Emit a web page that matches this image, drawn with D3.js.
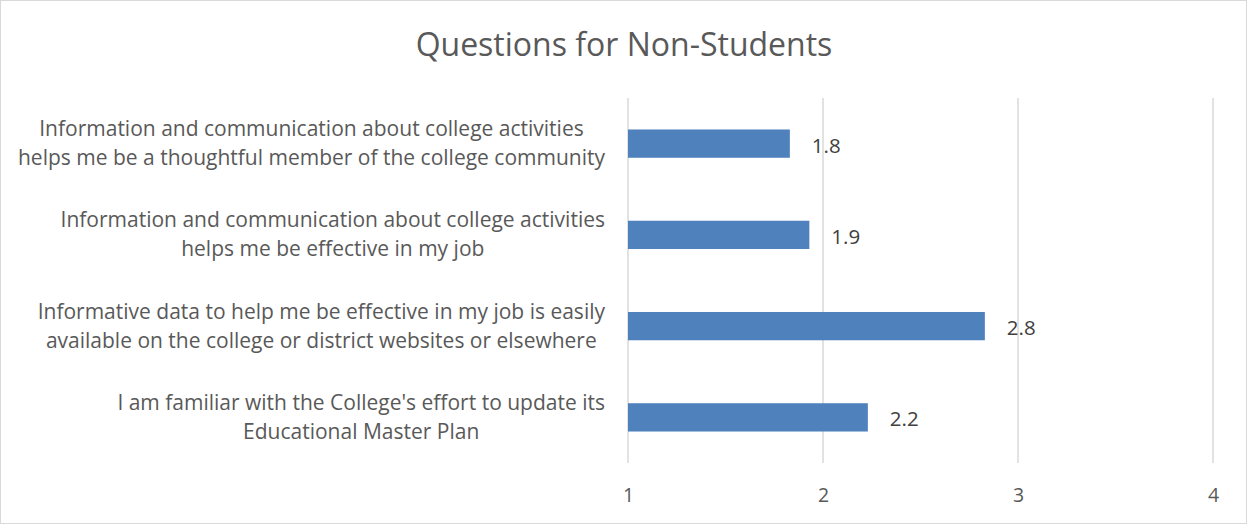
<!DOCTYPE html>
<html>
<head>
<meta charset="utf-8">
<script src="https://cdn.jsdelivr.net/npm/d3@7"></script>
<style>
  html, body { margin: 0; padding: 0; background: #fff; }
  svg { display: block; }
  text { font-family: "Open Sans", Lato, sans-serif; }
</style>
</head>
<body>
<svg id="chart" width="1247" height="524"></svg>
<script>
// Survey questions (top to bottom), each split into its display lines
const questions = [
  ["Information and communication about college activities",
   "helps me be a thoughtful member of the college community"],
  ["Information and communication about college activities",
   "helps me be effective in my job"],
  ["Informative data to help me be effective in my job is easily",
   "available on the college or district websites or elsewhere"],
  ["I am familiar with the College's effort to update its",
   "Educational Master Plan"]
];
// Mean rating per question
const scores = [1.83, 1.93, 2.83, 2.23];
// Axis ticks
const tickValues = [1, 2, 3, 4];
const chartTitle = "Questions for Non-Students";

const W = 1247, H = 524;
const plot = { left: 628, right: 1213, top: 98, bottom: 463 };

const svg = d3.select("#chart");

// Outer chart border
svg.append("rect")
  .attr("x", 0.5).attr("y", 0.5)
  .attr("width", W - 1).attr("height", H - 1)
  .attr("fill", "#fff").attr("stroke", "#d9d9d9");

const x = d3.scaleLinear().domain([1, 4]).range([plot.left, plot.right]);
const y = d3.scaleBand()
  .domain(d3.range(questions.length))
  .range([plot.top, plot.bottom])
  .paddingInner(0.69)
  .paddingOuter(0.345);

// Title
svg.append("text")
  .attr("x", 624).attr("y", 56)
  .attr("text-anchor", "middle")
  .attr("font-size", 32)
  .attr("font-weight", 400)
  .attr("fill", "#595959")
  .text(chartTitle);

// Vertical gridlines
svg.append("g").selectAll("line")
  .data(tickValues)
  .join("line")
  .attr("x1", d => x(d)).attr("x2", d => x(d))
  .attr("y1", plot.top).attr("y2", plot.bottom)
  .attr("stroke", "#d9d9d9").attr("stroke-width", 1.5);

// X axis tick labels
const xAxis = d3.axisBottom(x).tickValues(tickValues).tickSize(0).tickPadding(0).tickFormat(d3.format("d"));
const gx = svg.append("g").attr("transform", `translate(0,${plot.bottom})`).call(xAxis);
gx.select(".domain").remove();
gx.selectAll("text")
  .attr("dy", null).attr("y", 39)
  .attr("font-size", 19.5).attr("font-family", null)
  .attr("fill", "#595959");

// Bars
svg.append("g").selectAll("rect")
  .data(scores)
  .join("rect")
  .attr("x", x(1))
  .attr("y", (d, i) => y(i))
  .attr("width", d => x(d) - x(1))
  .attr("height", y.bandwidth())
  .attr("fill", "#4f81bd");

// Value labels
svg.append("g").selectAll("text")
  .data(scores)
  .join("text")
  .attr("x", d => x(d) + 22)
  .attr("y", (d, i) => y(i) + y.bandwidth() / 2 + 9)
  .attr("font-size", 20.5)
  .attr("fill", "#404040")
  .text(d => d3.format(".1f")(d));

// Category labels: block right-aligned to the plot, lines centred within the block
const labelRight = 605, lineGap = 29;
const catG = svg.append("g");
questions.forEach((lines, i) => {
  const g = catG.append("g");
  const texts = g.selectAll("text")
    .data(lines)
    .join("text")
    .attr("font-size", 21)
    .attr("fill", "#595959")
    .attr("text-anchor", "middle")
    .text(d => d);
  const maxW = d3.max(texts.nodes(), n => n.getComputedTextLength());
  const cy = y(i) + y.bandwidth() / 2;
  const top = cy - (lines.length - 1) * lineGap / 2;
  texts
    .attr("x", labelRight - maxW / 2)
    .attr("y", (d, j) => top + j * lineGap + 7);
});
</script>
</body>
</html>
